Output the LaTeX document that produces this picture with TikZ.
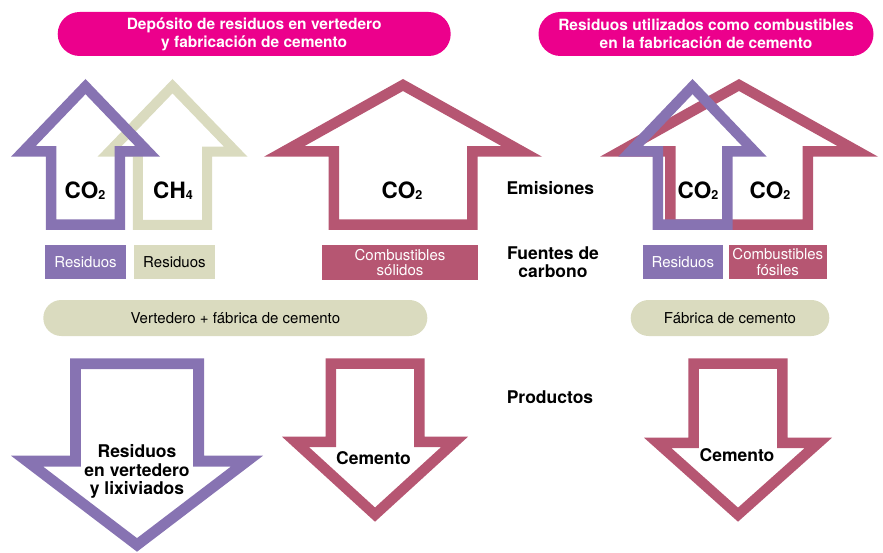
\documentclass[tikz,border=0pt]{standalone}
\usepackage{fontspec}
\setmainfont{TeX Gyre Heros}
\usetikzlibrary{calc}
\definecolor{bannermag}{HTML}{EC008C}
\definecolor{wasteviolet}{HTML}{8773B2}
\definecolor{landbeige}{HTML}{DADBBF}
\definecolor{fuelrose}{HTML}{B65672}
% hollow block arrow: colour, centre x, tip y, head half width, head base y, shaft half width, end y, band width
\newcommand{\blockarrow}[8]{%
  \pgfmathsetmacro\bah{abs(#5-#3)}
  \pgfmathsetmacro\bas{(#5-#3)/\bah}
  \pgfmathsetmacro\basin{sin(atan(#4/\bah))}
  \pgfmathsetmacro\batip{#3+\bas*#8/\basin}
  \pgfmathsetmacro\babase{#5-\bas*#8}
  \pgfmathsetmacro\baend{#7-\bas*#8}
  \pgfmathsetmacro\bahw{(\bah-#8-#8/\basin)*#4/\bah}
  \pgfmathsetmacro\basw{#6-#8}
  \fill[#1, even odd rule]
    (#2,#3) -- (#2+#4,#5) -- (#2+#6,#5) -- (#2+#6,#7) -- (#2-#6,#7) -- (#2-#6,#5) -- (#2-#4,#5) -- cycle
    (#2,\batip) -- (#2+\bahw,\babase) -- (#2+\basw,\babase) -- (#2+\basw,\baend) -- (#2-\basw,\baend) -- (#2-\basw,\babase) -- (#2-\bahw,\babase) -- cycle;
}
\newcommand{\gassub}[1]{\raisebox{-1.7pt}{\fontsize{12.5}{12.5}\selectfont#1}}
\tikzset{
  banner/.style={fill=bannermag, text=white, rounded corners=22pt, minimum height=44pt, align=center,
    font=\bfseries\fontsize{15.5}{18}\selectfont},
  plant/.style={fill=landbeige, rounded corners=18pt, minimum height=36pt,
    font=\fontsize{15}{18}\selectfont},
  source/.style={fill=#1, minimum height=34.5pt, inner sep=0pt, align=center,
    font=\fontsize{15}{15.5}\selectfont},
  gas/.style={anchor=base, font=\bfseries\fontsize{22.5}{24}\selectfont},
  rowlabel/.style={align=center, font=\bfseries\fontsize{17.5}{18.6}\selectfont}
}

\begin{document}
\begin{tikzpicture}[x=1pt, y=-1pt]
    \useasboundingbox (0,0) rectangle (883,553);
    \def\bw{10.5} % band width of the arrow outlines

    % Banners
    \node[banner, minimum width=393pt] (bannerL) at (254.2,34) {Depósito de residuos en vertedero\\y fabricación de cemento};
    \node[banner, minimum width=335pt] (bannerR) at (706,34) {Residuos utilizados como combustibles\\en la fabricación de cemento};

    % Emission arrows
    \blockarrow{landbeige}{172.5}{79}{75}{156.7}{39.7}{230}{10}
    \blockarrow{wasteviolet}{85.5}{79}{74.5}{156.7}{39.7}{230}{\bw}
    \blockarrow{fuelrose}{403}{79}{139}{156.7}{74.5}{230}{\bw}
    \blockarrow{fuelrose}{739}{79}{139}{156.7}{74}{230}{\bw}
    \blockarrow{wasteviolet}{692.5}{79}{74.2}{156.7}{40}{230}{\bw}

    % Gases
    \node[gas] (co2a) at (85,198.3) {CO\gassub{2}};
    \node[gas] (ch4) at (173,198.3) {CH\gassub{4}};
    \node[gas] (co2b) at (402,198.3) {CO\gassub{2}};
    \node[gas] (co2c) at (698,198.3) {CO\gassub{2}};
    \node[gas] (co2d) at (770,198.3) {CO\gassub{2}};

    % Row labels
    \node[rowlabel] (emis) at (550.3,187.7) {Emisiones};
    \node[rowlabel] (fuentes) at (553,262.3) {Fuentes de\\carbono};
    \node[rowlabel] (prod) at (550,396.7) {Productos};

    % Carbon sources
    \node[source=wasteviolet, text=white, minimum width=81pt] (resA) at (85.5,262.2) {Residuos};
    \node[source=landbeige, minimum width=80.7pt] (resB) at (174.4,262.2) {Residuos};
    \node[source=fuelrose, text=white, minimum width=155.4pt] (fuelA) at (400,262.5) {Combustibles\\sólidos};
    \node[source=wasteviolet, text=white, minimum width=79.7pt] (resC) at (682.8,262.2) {Residuos};
    \node[source=fuelrose, text=white, minimum width=97.7pt] (fuelB) at (777.8,262.2) {Combustibles\\fósiles};

    % Plants
    \node[plant, minimum width=384pt] (plantL) at (235.3,318) {Vertedero + fábrica de cemento};
    \node[plant, minimum width=198.6pt] (plantR) at (730,318) {Fábrica de cemento};

    % Product arrows
    \blockarrow{wasteviolet}{137}{551.7}{126}{455.7}{67}{358.3}{10.8}
    \blockarrow{fuelrose}{375}{521.7}{93}{436.7}{49.5}{358.3}{\bw}
    \blockarrow{fuelrose}{738}{521.7}{94}{437.7}{49.7}{358.3}{\bw}

    % Products
    \node[rowlabel] (landfill) at (137,471.5) {Residuos\\en vertedero\\y lixiviados};
    \node[rowlabel] (cemA) at (373.5,458.3) {Cemento};
    \node[rowlabel] (cemB) at (737,455) {Cemento};
\end{tikzpicture}
\end{document}
